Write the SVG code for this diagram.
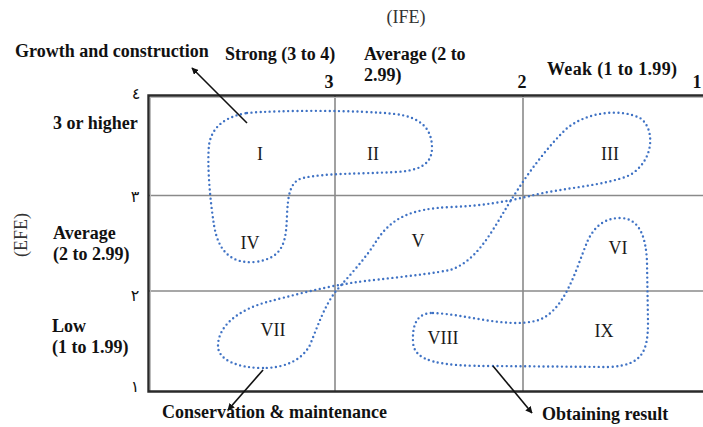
<svg xmlns="http://www.w3.org/2000/svg" width="703" height="427" viewBox="0 0 703 427">
<style>
.b{font-family:"Liberation Serif","Times New Roman",serif;font-size:18px;font-weight:bold;fill:#111}
.n{font-family:"Liberation Serif","Times New Roman",serif;font-size:18px;fill:#333}
.r{font-family:"Liberation Serif","Times New Roman",serif;font-size:18px;fill:#1a1a1a;text-anchor:middle}
.d{font-family:"DejaVu Sans","Noto Sans",sans-serif;font-size:16px;fill:#111;text-anchor:middle}
.dot{fill:none;stroke:#3f72c4;stroke-width:2.4;stroke-linecap:round;stroke-dasharray:0 4.6}
.grid{stroke:#8a8a8a;stroke-width:1.6;fill:none}
.frame{stroke:#2a2a2a;stroke-width:2.4;fill:none}
.arr{stroke:#111;stroke-width:1.6;fill:none;marker-end:url(#ah)}
</style>
<defs>
<marker id="ah" viewBox="0 0 10 10" refX="9" refY="5" markerWidth="7" markerHeight="7" orient="auto" markerUnits="userSpaceOnUse">
<path d="M0,0 L10,5 L0,10 Z" fill="#111"/>
</marker>
</defs>
<rect width="703" height="427" fill="#fff"/>
<g id="grid">
<line class="grid" x1="335" y1="96" x2="335" y2="391"/>
<line class="grid" x1="523" y1="96" x2="523" y2="391"/>
<line class="grid" x1="148" y1="195.5" x2="703" y2="195.5"/>
<line class="grid" x1="148" y1="291" x2="703" y2="291"/>
<line stroke="#bbb" stroke-width="1" x1="150" y1="97.5" x2="703" y2="97.5"/>
<line stroke="#bbb" stroke-width="1" x1="150.5" y1="97" x2="150.5" y2="391"/>
<path class="frame" d="M703,95.5 H148.5 V391.5 H703"/>
</g>
<g id="axis-labels">
<text class="n" x="406" y="23" text-anchor="middle">(IFE)</text>
<text class="n" transform="translate(27,235) rotate(-90)" text-anchor="middle">(EFE)</text>
<text class="b" x="15" y="57">Growth and construction</text>
<text class="b" x="225" y="60">Strong (3 to 4)</text>
<text class="b" x="364" y="60">Average (2 to</text>
<text class="b" x="364" y="81">2.99)</text>
<text class="b" x="547" y="75" textLength="130">Weak (1 to 1.99)</text>
<text class="b" x="329" y="88" text-anchor="middle">3</text>
<text class="b" x="522" y="88" text-anchor="middle">2</text>
<text class="b" x="697" y="88" text-anchor="middle">1</text>
<text class="b" x="53" y="129">3 or higher</text>
<text class="b" x="53" y="239">Average</text>
<text class="b" x="53" y="260">(2 to 2.99)</text>
<text class="b" x="52" y="332">Low</text>
<text class="b" x="52" y="353">(1 to 1.99)</text>
<text class="d" x="136" y="99">٤</text>
<text class="d" x="135" y="202">٣</text>
<text class="d" x="135" y="301">٢</text>
<text class="d" x="135" y="392">١</text>
<text class="b" x="162" y="418">Conservation &amp; maintenance</text>
<text class="b" x="542" y="420">Obtaining result</text>
</g>
<g id="cells">
<text class="r" x="260" y="160">I</text>
<text class="r" x="373" y="160">II</text>
<text class="r" x="610" y="160">III</text>
<text class="r" x="250" y="249">IV</text>
<text class="r" x="418" y="247">V</text>
<text class="r" x="618" y="254">VI</text>
<text class="r" x="273" y="336">VII</text>
<text class="r" x="443" y="344">VIII</text>
<text class="r" x="604" y="337">IX</text>
</g>
<g id="regions">
<path id="region-growth" class="dot" d="M247,113 C280,110 360,110 395,114 C420,117 432,128 432,148 C432,165 418,171 395,172 C360,174 325,173 303,178 C290,181 288,195 287,215 C286,240 285,258 255,262 C230,264 218,250 214,225 C210,200 207,165 209,145 C212,125 228,116 247,113 Z"/>
<path id="region-conservation" class="dot" d="M263,368 C238,368 218,360 218,346 C218,326 238,310 267,302 C290,296 320,288 345,284 C365,280 420,276 450,270 C475,262 490,235 505,210 C520,185 540,155 565,130 C585,112 620,108 640,118 C655,128 655,160 630,175 C605,186 560,188 530,196 C505,202 480,206 450,207 C410,209 392,218 377,240 C366,258 350,275 336,291 C325,305 318,325 310,345 C302,360 285,368 263,368 Z"/>
<path id="region-result" class="dot" d="M433,313 C465,314 505,328 535,321 C565,314 576,268 588,240 C596,224 607,218 620,218 C640,218 646,238 647,262 L648,322 C648,352 642,365 610,367 L493,366 C440,366 414,362 413,342 C412,320 420,313 433,313 Z"/>
</g>
<g id="connectors">
<line class="arr" x1="247" y1="123" x2="192" y2="68"/>
<line class="arr" x1="263" y1="370" x2="228" y2="410"/>
<line class="arr" x1="493" y1="366" x2="532" y2="413"/>
</g>
</svg>
